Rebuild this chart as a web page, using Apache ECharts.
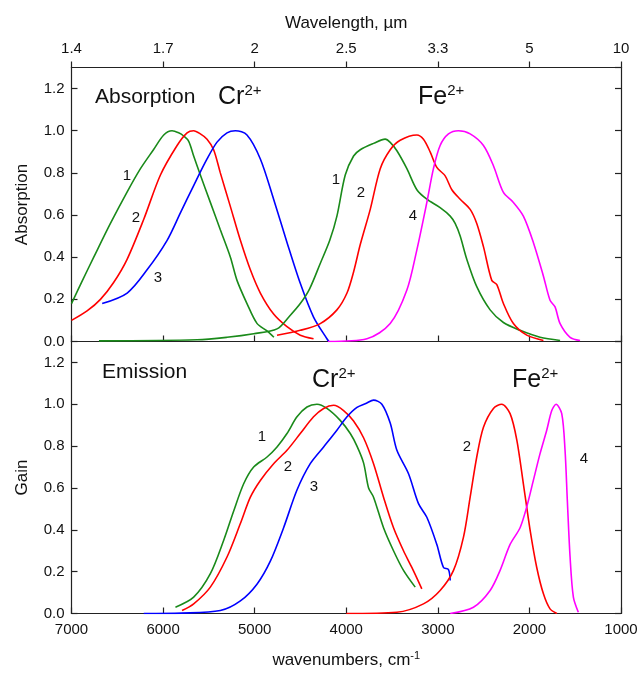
<!DOCTYPE html>
<html><head><meta charset="utf-8">
<script src="https://cdn.jsdelivr.net/npm/echarts@6/dist/echarts.min.js"></script>
<style>html,body{margin:0;padding:0;background:#fff}#c{width:639px;height:673px}</style>
</head><body><div id="c"></div><script>
// ---------- tick labels ----------
const wavenumberTicks = [7000, 6000, 5000, 4000, 3000, 2000, 1000];
const wavelengthLabels = ['1.4', '1.7', '2', '2.5', '3.3', '5', '10'];

// ---------- Absorption panel: [wavenumber cm-1, value] ----------
const absCr1 = [[7000,0.18],[6880,0.29],[6757,0.40],[6575,0.56],[6392,0.71],[6247,0.82],[6105,0.91],[5993,0.98],[5902,1.0],[5830,0.99],[5775,0.975],[5720,0.95],[5666,0.88],[5593,0.79],[5484,0.66],[5375,0.53],[5265,0.40],[5193,0.29],[5084,0.18],[4975,0.086],[4865,0.05],[4790,0.02]];
const absCr2 = [[7000,0.10],[6830,0.145],[6684,0.20],[6540,0.28],[6393,0.39],[6211,0.58],[6029,0.79],[5847,0.93],[5738,0.99],[5666,1.0],[5593,0.985],[5520,0.96],[5448,0.91],[5375,0.80],[5265,0.64],[5156,0.48],[5047,0.34],[4938,0.23],[4793,0.13],[4647,0.07],[4502,0.03],[4357,0.013]];
const absCr3 = [[6665,0.18],[6392,0.23],[6175,0.34],[5956,0.48],[5811,0.61],[5666,0.74],[5520,0.866],[5411,0.946],[5302,0.99],[5211,1.0],[5084,0.98],[4938,0.866],[4793,0.675],[4647,0.47],[4502,0.276],[4357,0.116],[4211,0.013],[4190,0.0]];
const absFe1 = [[6700,0.003],[5629,0.008],[5302,0.02],[5011,0.037],[4756,0.06],[4620,0.12],[4502,0.18],[4400,0.25],[4284,0.37],[4180,0.48],[4102,0.595],[4011,0.79],[3920,0.88],[3847,0.91],[3702,0.94],[3575,0.96],[3520,0.945],[3447,0.905],[3338,0.82],[3229,0.72],[3120,0.675],[2975,0.635],[2865,0.595],[2811,0.56],[2756,0.5],[2684,0.39],[2575,0.26],[2429,0.15],[2284,0.09],[2102,0.053],[1884,0.02],[1665,0.005]];
const absFe2 = [[4756,0.03],[4502,0.053],[4284,0.085],[4102,0.15],[3992,0.23],[3920,0.33],[3847,0.46],[3738,0.627],[3629,0.82],[3520,0.91],[3411,0.955],[3229,0.98],[3157,0.96],[3084,0.9],[3011,0.826],[2920,0.786],[2847,0.72],[2756,0.675],[2647,0.627],[2575,0.56],[2502,0.45],[2411,0.29],[2356,0.27],[2284,0.18],[2175,0.085],[2029,0.03],[1847,0.005]];
const absFe4 = [[4200,0.0],[3774,0.013],[3520,0.085],[3338,0.244],[3229,0.435],[3120,0.66],[3048,0.82],[2975,0.93],[2884,0.985],[2775,1.0],[2647,0.985],[2502,0.93],[2393,0.834],[2284,0.707],[2175,0.66],[2066,0.595],[1957,0.47],[1847,0.31],[1775,0.196],[1720,0.164],[1665,0.085],[1556,0.02],[1447,0.005]];

// ---------- Emission panel: [wavenumber cm-1, gain] ----------
const emCr1 = [[5865,0.03],[5666,0.078],[5484,0.19],[5338,0.35],[5229,0.49],[5120,0.62],[5011,0.70],[4865,0.748],[4756,0.796],[4647,0.86],[4538,0.94],[4429,0.987],[4320,1.0],[4211,0.98],[4066,0.923],[3956,0.86],[3883,0.80],[3811,0.72],[3756,0.60],[3702,0.556],[3593,0.41],[3484,0.30],[3375,0.206],[3247,0.126]];
const emCr2 = [[5793,0.014],[5666,0.046],[5484,0.126],[5302,0.27],[5156,0.43],[5047,0.556],[4938,0.636],[4793,0.716],[4647,0.78],[4502,0.86],[4357,0.94],[4247,0.98],[4138,0.995],[4029,0.97],[3920,0.92],[3811,0.84],[3702,0.716],[3593,0.556],[3484,0.41],[3375,0.30],[3284,0.22],[3175,0.118]];
const emCr3 = [[6211,0.0],[5800,0.002],[5375,0.014],[5156,0.06],[4975,0.14],[4829,0.25],[4684,0.41],[4538,0.59],[4393,0.716],[4247,0.796],[4102,0.876],[3992,0.94],[3883,0.985],[3780,1.005],[3702,1.02],[3611,1.0],[3520,0.91],[3447,0.78],[3320,0.668],[3211,0.525],[3120,0.46],[3011,0.33],[2938,0.22],[2884,0.21],[2865,0.158]];
const emFe2 = [[4000,0.0],[3447,0.006],[3157,0.046],[2975,0.11],[2829,0.206],[2720,0.365],[2647,0.556],[2575,0.748],[2502,0.89],[2393,0.98],[2302,1.0],[2211,0.955],[2138,0.83],[2066,0.62],[1993,0.40],[1920,0.22],[1847,0.094],[1775,0.022],[1700,0.0]];
const emFe4 = [[2865,0.0],[2611,0.03],[2429,0.11],[2320,0.206],[2211,0.33],[2102,0.41],[2029,0.51],[1957,0.636],[1884,0.764],[1811,0.876],[1756,0.97],[1709,1.0],[1647,0.955],[1611,0.78],[1586,0.54],[1556,0.27],[1520,0.078],[1466,0.006]];

const FONT = "'Liberation Sans', Arial, Helvetica, sans-serif";
const TXT = '#111';
const GREEN = '#1a8a1a', RED = '#ff0000', BLUE = '#0000ff', MAGENTA = '#ff00ff';
const AX = {lineStyle: {color: '#222', width: 1.2}};

function yLabelFmt(v) {
  const k = v * 5;
  return Math.abs(k - Math.round(k)) < 1e-6 ? v.toFixed(1) : '';
}
function wlFmt(v) {
  const i = wavenumberTicks.indexOf(Math.round(v));
  return i >= 0 ? wavelengthLabels[i] : '';
}
function wnFmt(v) { return String(Math.round(v)); }
function line(data, color, xi, yi) {
  return {type: 'line', data, xAxisIndex: xi, yAxisIndex: yi, showSymbol: false, symbol: 'none',
    smooth: 0.3, lineStyle: {color, width: 1.6}, itemStyle: {color},
    silent: true, animation: false};
}
function txt(x, y, text, size, align) {
  return {type: 'text', x, y, silent: true,
    style: {text, fontSize: size, fontFamily: FONT, fill: TXT, align: align || 'center', verticalAlign: 'middle'}};
}
function ion(x, y, base) {
  return {type: 'text', x, y, silent: true,
    style: {text: '{m|' + base + '}{s|2+}', align: 'left', verticalAlign: 'middle', fill: TXT,
      rich: {m: {fontSize: 25, lineHeight: 28, fontFamily: FONT, fill: TXT},
             s: {fontSize: 15, lineHeight: 16, verticalAlign: 'top', fontFamily: FONT, fill: TXT}}}};
}

const yCommon = (gi) => ({type: 'value', gridIndex: gi, min: 0, max: 1.3, interval: 0.2,
  axisLine: Object.assign({show: true, onZero: false}, AX),
  axisTick: {show: true, inside: true, length: 6, lineStyle: {color: '#222', width: 1.2}},
  splitLine: {show: false}});

const chart = echarts.init(document.getElementById('c'), null, {renderer: 'canvas'});
chart.setOption({
  animation: false,
  backgroundColor: '#fff',
  textStyle: {fontFamily: FONT},
  grid: [
    {left: 71.5, right: 18, top: 67.5, height: 274, containLabel: false, outerBoundsMode: 'none'},
    {left: 71.5, right: 18, top: 341.5, height: 272, containLabel: false, outerBoundsMode: 'none'}
  ],
  xAxis: [
    {type: 'value', gridIndex: 0, position: 'bottom', min: 1000, max: 7000, interval: 1000, inverse: true,
      axisLine: Object.assign({show: true, onZero: false}, AX),
      axisTick: {show: true, inside: true, length: 6, lineStyle: {color: '#222', width: 1.2}},
      axisLabel: {show: false}, splitLine: {show: false}},
    {type: 'value', gridIndex: 0, position: 'top', min: 1000, max: 7000, interval: 1000, inverse: true,
      axisLine: Object.assign({show: true, onZero: false}, AX),
      axisTick: {show: true, inside: false, length: 6, lineStyle: {color: '#222', width: 1.2}},
      axisLabel: {show: true, formatter: wlFmt, margin: 11, fontSize: 15, color: TXT, fontFamily: FONT},
      splitLine: {show: false},
      name: 'Wavelength, µm', nameLocation: 'middle', nameGap: 36,
      nameTextStyle: {fontSize: 17, color: TXT, fontFamily: FONT}},
    {type: 'value', gridIndex: 1, position: 'bottom', min: 1000, max: 7000, interval: 1000, inverse: true,
      axisLine: Object.assign({show: true, onZero: false}, AX),
      axisTick: {show: true, inside: true, length: 6, lineStyle: {color: '#222', width: 1.2}},
      axisLabel: {show: true, formatter: wnFmt, margin: 9, fontSize: 15, color: TXT, fontFamily: FONT},
      splitLine: {show: false},
      name: '{a|wavenumbers, cm}{b|-1}', nameLocation: 'middle', nameGap: 37,
      nameTextStyle: {color: TXT, fontFamily: FONT,
        rich: {a: {fontSize: 17, lineHeight: 20, fontFamily: FONT, color: TXT},
               b: {fontSize: 11, lineHeight: 12, verticalAlign: 'top', fontFamily: FONT, color: TXT}}}}
  ],
  yAxis: [
    Object.assign(yCommon(0), {position: 'left',
      axisLabel: {show: true, formatter: yLabelFmt, showMaxLabel: false, margin: 7, fontSize: 15, color: TXT, fontFamily: FONT},
      name: 'Absorption', nameLocation: 'middle', nameGap: 41,
      nameTextStyle: {fontSize: 17, color: TXT, fontFamily: FONT}}),
    Object.assign(yCommon(1), {position: 'left',
      axisLabel: {show: true, formatter: yLabelFmt, showMaxLabel: false, margin: 7, fontSize: 15, color: TXT, fontFamily: FONT},
      name: 'Gain', nameLocation: 'middle', nameGap: 41,
      nameTextStyle: {fontSize: 17, color: TXT, fontFamily: FONT}}),
    Object.assign(yCommon(0), {position: 'right', axisLabel: {show: false}}),
    Object.assign(yCommon(1), {position: 'right', axisLabel: {show: false}})
  ],
  series: [
    line(absCr1, GREEN, 0, 0),
    line(absCr2, RED, 0, 0),
    line(absCr3, BLUE, 0, 0),
    line(absFe1, GREEN, 0, 0),
    line(absFe2, RED, 0, 0),
    line(absFe4, MAGENTA, 0, 0),
    line(emCr1, GREEN, 2, 1),
    line(emCr2, RED, 2, 1),
    line(emCr3, BLUE, 2, 1),
    line(emFe2, RED, 2, 1),
    line(emFe4, MAGENTA, 2, 1)
  ],
  graphic: [
    txt(95, 97, 'Absorption', 21, 'left'),
    ion(218, 97, 'Cr'),
    ion(418, 97, 'Fe'),
    txt(127, 176, '1', 15), txt(136, 218, '2', 15), txt(158, 278, '3', 15),
    txt(336, 180, '1', 15), txt(361, 193, '2', 15), txt(413, 216, '4', 15),
    txt(102, 372, 'Emission', 21, 'left'),
    ion(312, 380, 'Cr'),
    ion(512, 380, 'Fe'),
    txt(262, 437, '1', 15), txt(288, 467, '2', 15), txt(314, 487, '3', 15),
    txt(467, 447, '2', 15), txt(584, 459, '4', 15)
  ]
});
</script></body></html>
